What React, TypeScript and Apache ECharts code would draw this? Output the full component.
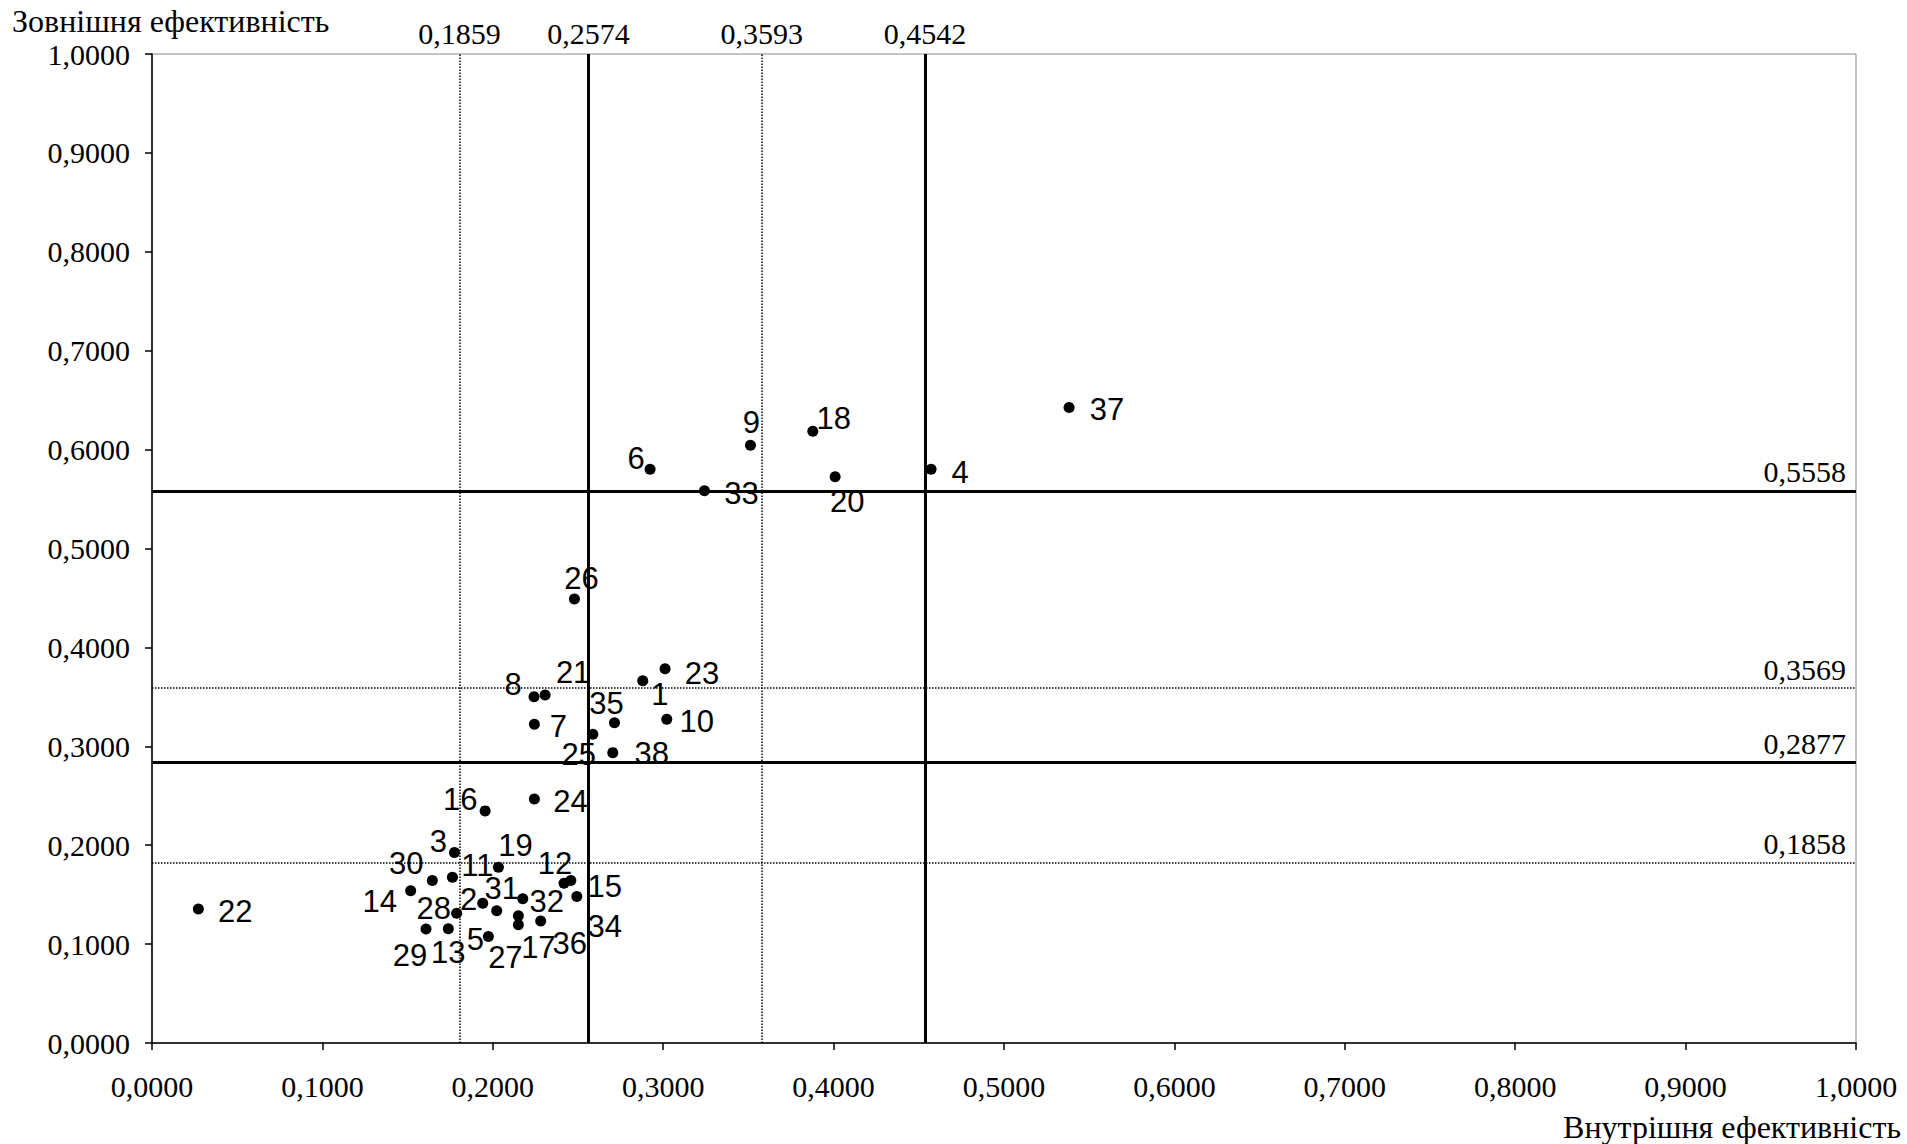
import React, { useEffect, useRef } from "react";
import * as echarts from "echarts";

// Point ids, internal efficiency (x) and external efficiency (y)
const ids = [
  1, 2, 3, 4, 5, 6, 7, 8, 9, 10,
  11, 12, 13, 14, 15, 16, 17, 18, 19, 20,
  21, 22, 23, 24, 25, 26, 27, 28, 29, 30,
  31, 32, 33, 34, 35, 36, 37, 38,
];
const xs = [
  0.2880, 0.1941, 0.1775, 0.4572, 0.1974, 0.2923, 0.2244, 0.2242, 0.3512, 0.3021,
  0.1763, 0.2418, 0.1739, 0.1518, 0.2458, 0.1955, 0.2150, 0.3878, 0.2033, 0.4009,
  0.2307, 0.0272, 0.3011, 0.2244, 0.2587, 0.2479, 0.2150, 0.1788, 0.1608, 0.1645,
  0.2023, 0.2176, 0.3242, 0.2493, 0.2714, 0.2281, 0.5382, 0.2704,
];
const ys = [
  0.3663, 0.1414, 0.1926, 0.5802, 0.1077, 0.5802, 0.3223, 0.3502, 0.6045, 0.3273,
  0.1677, 0.1616, 0.1155, 0.1539, 0.1643, 0.2347, 0.1195, 0.6186, 0.1778, 0.5725,
  0.3519, 0.1354, 0.3785, 0.2468, 0.3122, 0.4489, 0.1286, 0.1313, 0.1152, 0.1643,
  0.1337, 0.1458, 0.5583, 0.1481, 0.3239, 0.1233, 0.6426, 0.2936,
];

// Threshold lines: stated value (label) and where the line is drawn in the picture
const vSolidLabels = [0.2574, 0.4542];
const vSolidAt = [0.2561, 0.4537];
const vDottedLabels = [0.1859, 0.3593];
const vDottedAt = [0.1804, 0.3579];
const hSolidLabels = [0.5558, 0.2877];
const hSolidAt = [0.5583, 0.2835];
const hDottedLabels = [0.3569, 0.1858];
const hDottedAt = [0.3587, 0.1825];

const xTitle = "Внутрішня ефективність";
const yTitle = "Зовнішня ефективність";

// Label placement (offset of the label centre from the dot, px)
const labelOffsets: Record<number, [number, number]> = {
  1: [17, 14], 2: [-14, -4], 3: [-16, -11], 4: [29, 3], 5: [-13, 3],
  6: [-14, -11], 7: [24, 2], 8: [-21, -12], 9: [1, -23], 10: [30, 2],
  11: [25, -12], 12: [-9, -20], 13: [0, 24], 14: [-31, 11], 15: [34, 6],
  16: [-25, -11], 17: [20, 23], 18: [21, -13], 19: [17, -22], 20: [12, 25],
  21: [28, -22], 22: [37, 2], 23: [37, 5], 24: [36, 3], 25: [-14, 20],
  26: [7, -21], 27: [-13, 42], 28: [-23, -5], 29: [-16, 26], 30: [-26, -17],
  31: [5, -22], 32: [24, 3], 33: [37, 3], 34: [28, 30], 35: [-8, -19],
  36: [29, 22], 37: [38, 2], 38: [39, 1],
};

const fmt = (v: number) => v.toFixed(4).replace(".", ",");
const SERIF = "'Liberation Serif', 'Times New Roman', serif";
const SANS = "'Liberation Sans', Arial, sans-serif";

export default function App() {
  const ref = useRef<HTMLDivElement>(null);
  useEffect(() => {
    if (!ref.current) return;
    const chart = echarts.init(ref.current, undefined, { renderer: "svg" });

    const points = ids.map((id, i) => ({
      value: [xs[i], ys[i]],
      name: String(id),
      label: { offset: labelOffsets[id] },
    }));

    const solidStyle = { color: "#000", width: 3, type: "solid" };
    const dottedStyle = { color: "#000", width: 1.5, type: "dotted" };

    const vLine = (at: number, lab: number, solid: boolean) => ({
      xAxis: at,
      lineStyle: solid ? solidStyle : dottedStyle,
      label: {
        show: true,
        position: "end",
        distance: 6,
        formatter: fmt(lab),
        color: "#000",
        fontFamily: SERIF,
        fontSize: 30,
      },
    });
    const hLine = (at: number, lab: number, solid: boolean) => ({
      yAxis: at,
      lineStyle: solid ? solidStyle : dottedStyle,
      label: {
        show: true,
        position: "insideEndTop",
        distance: [10, 4],
        formatter: fmt(lab),
        color: "#000",
        fontFamily: SERIF,
        fontSize: 30,
      },
    });

    chart.setOption({
      animation: false,
      backgroundColor: "#fff",
      grid: {
        left: 152,
        right: 51,
        top: 54,
        bottom: 101,
        show: true,
        borderColor: "#888",
        borderWidth: 1,
        backgroundColor: "transparent",
      },
      xAxis: {
        type: "value",
        min: 0,
        max: 1,
        interval: 0.1,
        axisLine: { show: true, onZero: false, lineStyle: { color: "#000", width: 1.5 } },
        axisTick: { show: true, inside: false, length: 7, lineStyle: { color: "#000", width: 1.5 } },
        splitLine: { show: false },
        axisLabel: {
          formatter: (v: number) => fmt(v),
          color: "#000",
          fontFamily: SERIF,
          fontSize: 30,
          margin: 28,
        },
      },
      yAxis: {
        type: "value",
        min: 0,
        max: 1,
        interval: 0.1,
        axisLine: { show: true, onZero: false, lineStyle: { color: "#000", width: 1.5 } },
        axisTick: { show: true, inside: false, length: 7, lineStyle: { color: "#000", width: 1.5 } },
        splitLine: { show: false },
        axisLabel: {
          formatter: (v: number) => fmt(v),
          color: "#000",
          fontFamily: SERIF,
          fontSize: 30,
          margin: 22,
        },
      },
      graphic: [
        {
          type: "text",
          left: 12,
          top: 5,
          style: { text: yTitle, fill: "#000", font: `32px ${SERIF}` },
        },
        {
          type: "text",
          right: 6,
          top: 1111,
          style: { text: xTitle, fill: "#000", font: `32px ${SERIF}` },
        },
      ],
      series: [
        {
          type: "scatter",
          symbol: "circle",
          symbolSize: 11,
          itemStyle: { color: "#000", opacity: 1 },
          data: points,
          z: 5,
          label: {
            show: true,
            position: "inside",
            formatter: (p: any) => p.name,
            color: "#000",
            fontFamily: SANS,
            fontSize: 31,
            lineHeight: 24,
          },
          markLine: {
            silent: true,
            symbol: "none",
            precision: 4,
            z: 3,
            data: [
              ...vSolidAt.map((v, i) => vLine(v, vSolidLabels[i], true)),
              ...vDottedAt.map((v, i) => vLine(v, vDottedLabels[i], false)),
              ...hSolidAt.map((v, i) => hLine(v, hSolidLabels[i], true)),
              ...hDottedAt.map((v, i) => hLine(v, hDottedLabels[i], false)),
            ],
          },
        },
      ],
    });
    return () => chart.dispose();
  }, []);
  return (
    <div
      ref={ref}
      style={{ position: "fixed", left: 0, top: 0, width: 1907, height: 1144, background: "#fff" }}
    />
  );
}
